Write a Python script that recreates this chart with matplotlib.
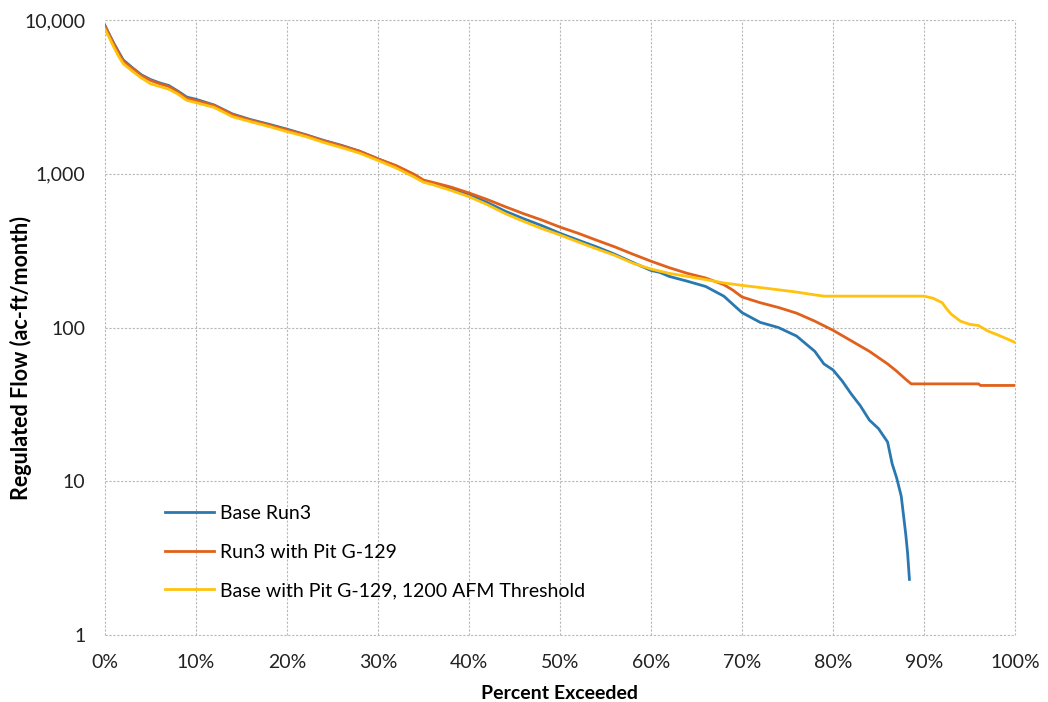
import matplotlib.pyplot as plt
from matplotlib.ticker import FuncFormatter, FixedLocator

# --- dados ---
pct_base = [0, 0.5, 1, 1.5, 2, 3, 4, 5, 6, 7, 8, 9, 10, 12, 14, 16, 18, 20, 22, 24,
            26, 28, 30, 32, 34, 35, 36, 38, 40, 42, 44, 46, 48, 50, 52, 54, 56, 58,
            60, 61, 62, 64, 66, 68, 70, 72, 74, 76, 78, 79, 80, 81, 82, 83, 84, 85,
            86, 86.5, 87, 87.5, 88, 88.2, 88.4]
flow_base = [9200, 8000, 7000, 6200, 5500, 4900, 4400, 4100, 3900, 3750, 3450, 3150,
             3050, 2800, 2450, 2250, 2100, 1950, 1800, 1650, 1530, 1400, 1250, 1120,
             980, 900, 870, 800, 730, 650, 570, 510, 460, 410, 370, 335, 300, 265,
             235, 228, 215, 200, 185, 160, 125, 108, 100, 88, 70, 58, 53, 45, 37, 31,
             25, 22, 18, 13, 10.5, 8, 4.5, 3.4, 2.3]

pct_pit = [0, 0.5, 1, 1.5, 2, 3, 4, 5, 6, 7, 8, 9, 10, 12, 14, 16, 18, 20, 22, 24,
           26, 28, 30, 32, 34, 35, 36, 38, 40, 42, 44, 46, 48, 50, 52, 54, 56, 58,
           60, 62, 64, 66, 68, 69, 70, 72, 74, 76, 78, 80, 82, 84, 86, 87, 88, 88.6,
           92, 96, 96.2, 100]
flow_pit = [9100, 7900, 6900, 6100, 5400, 4850, 4350, 4050, 3850, 3700, 3400, 3100,
            3000, 2780, 2430, 2230, 2080, 1930, 1790, 1640, 1520, 1400, 1250, 1130,
            990, 910, 880, 820, 750, 680, 610, 550, 500, 450, 410, 370, 335, 300,
            270, 245, 225, 210, 190, 175, 158, 145, 135, 124, 110, 96, 82, 70, 58,
            52, 46, 43, 43, 43, 42, 42]

pct_thr = [0, 0.5, 1, 1.5, 2, 3, 4, 5, 6, 7, 8, 9, 10, 12, 14, 16, 18, 20, 22, 24,
           26, 28, 30, 32, 34, 35, 36, 38, 40, 42, 44, 46, 48, 50, 52, 54, 56, 58,
           60, 62, 64, 66, 68, 70, 72, 74, 76, 78, 79, 80, 90, 91, 92, 92.5, 93, 94,
           95, 96, 97, 98, 99, 100]
flow_thr = [8700, 7600, 6600, 5800, 5200, 4650, 4200, 3850, 3700, 3550, 3300, 3000,
            2900, 2700, 2350, 2180, 2030, 1880, 1750, 1600, 1480, 1360, 1220, 1090,
            950, 880, 850, 780, 710, 630, 550, 490, 440, 400, 360, 325, 295, 262,
            240, 225, 215, 205, 195, 188, 182, 176, 170, 163, 160, 160, 160, 155,
            145, 132, 122, 110, 105, 103, 95, 90, 85, 80]

nomes = ['Base Run3', 'Run3 with Pit G-129', 'Base with Pit G-129, 1200 AFM Threshold']
cores = ['#2a78b0', '#e0611b', '#ffc20e']
x_ticks = list(range(0, 101, 10))
y_ticks = [1, 10, 100, 1000, 10000]

plt.rcParams['font.family'] = ['Lato', 'DejaVu Sans']

fig = plt.figure(figsize=(10.48, 7.02), dpi=100)
fig.patch.set_facecolor('white')
ax = fig.add_axes([0.1002, 0.0954, 0.8683, 0.8761])

for spine in ax.spines.values():
    spine.set_visible(False)

ax.plot(pct_base, flow_base, color=cores[0], linewidth=2, label=nomes[0], zorder=3)
ax.plot(pct_pit, flow_pit, color=cores[1], linewidth=2, label=nomes[1], zorder=4)
ax.plot(pct_thr, flow_thr, color=cores[2], linewidth=2, label=nomes[2], zorder=5)

ax.set_yscale('log')
ax.set_xlim(0, 100)
ax.set_ylim(1, 10000)
ax.xaxis.set_major_locator(FixedLocator(x_ticks))
ax.yaxis.set_major_locator(FixedLocator(y_ticks))
ax.yaxis.set_minor_locator(FixedLocator([]))
ax.xaxis.set_major_formatter(FuncFormatter(lambda v, p: f'{v:.0f}%'))
ax.yaxis.set_major_formatter(FuncFormatter(lambda v, p: f'{v:,.0f}'))
ax.tick_params(which='both', length=0, labelsize=14, colors='#222222')
ax.tick_params(axis='y', pad=14)
ax.tick_params(axis='x', pad=14)

ax.grid(True, color='#b8b8b8', linestyle=(0, (2, 1.5)), linewidth=0.8, zorder=0)
ax.set_axisbelow(True)
for lbl in ax.get_xgridlines() + ax.get_ygridlines():
    lbl.set_clip_on(False)

ax.set_xlabel('Percent Exceeded', fontsize=14, fontweight='bold', labelpad=10)
ax.set_ylabel('Regulated Flow (ac-ft/month)', fontsize=15.5, fontweight='bold')
ax.yaxis.set_label_coords(-0.08, 0.45)

ax.legend(loc='lower left', bbox_to_anchor=(0.047, 0.03), frameon=False, fontsize=14,
          handlelength=2.5, handletextpad=0.3, labelspacing=1.1)

fig.savefig('out.png', dpi=100)
plt.close()
